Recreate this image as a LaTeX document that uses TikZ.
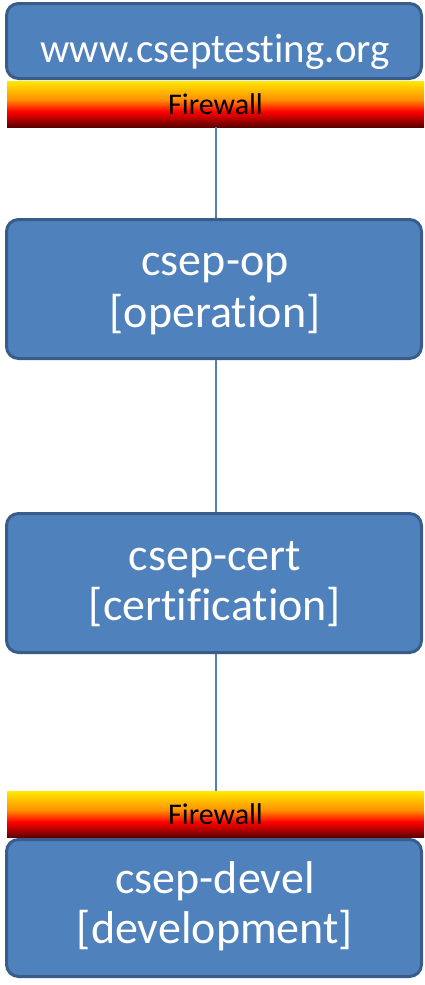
\documentclass[tikz,border=0pt]{standalone}
\usepackage{fontspec}
\setmainfont{Carlito}[Ligatures=NoCommon]
\usetikzlibrary{positioning}
\definecolor{hostfill}{HTML}{4F81BD}
\definecolor{hostedge}{HTML}{385D8A}
\definecolor{fwyellow}{HTML}{FFE800}
\definecolor{fworange}{HTML}{FF9000}
\definecolor{fwred}{HTML}{FF0000}
\definecolor{fwdark}{HTML}{5A0000}
% the node box covers 25bp..75bp of the shading
\pgfdeclareverticalshading{fireshade}{100bp}{
    color(0bp)=(fwdark); color(25bp)=(fwdark); color(34bp)=(fwdark!45!fwred);
    color(42bp)=(fwred); color(55bp)=(fworange); color(75bp)=(fwyellow);
    color(100bp)=(fwyellow)}
\tikzset{
    hostbox/.style={rectangle, rounded corners=12pt, fill=hostfill, draw=hostedge, line width=3pt,
        minimum width=415pt, inner sep=0pt},
    hosttext/.style={anchor=base, inner sep=0pt, text=white, font=\fontsize{46}{51}\selectfont},
    firewall/.style={rectangle, shading=fireshade, minimum width=417pt, minimum height=46pt,
        inner sep=0pt, font=\fontsize{30}{34}\selectfont},
    hostlink/.style={draw=hostfill, line width=2pt}
}

\begin{document}
\begin{tikzpicture}[x=1pt, y=-1pt]
    \useasboundingbox (0,0) rectangle (424,985);

    % Hosts
    \node[hostbox, minimum height=75pt] (web) at (214,41) {};
    \node[hostbox, minimum height=139pt] (op) at (214,289) {};
    \node[hostbox, minimum height=139pt] (cert) at (214,583) {};
    \node[hostbox, minimum height=137pt] (devel) at (214,908) {};

    \node[hosttext, font=\fontsize{41}{46}\selectfont] (web-name) at (215,62) {www.cseptesting.org};
    \node[hosttext] (op-name) at (215,275) {csep-op};
    \node[hosttext] (op-role) at (215,327) {[operation]};
    \node[hosttext] (cert-name) at (215,570) {csep-cert};
    \node[hosttext] (cert-role) at (215,620) {[certification]};
    \node[hosttext] (devel-name) at (215,893) {csep-devel};
    \node[hosttext] (devel-role) at (215,943) {[development]};

    % Firewalls
    \node[firewall] (fwa) at (215.5,104) {Firewall};
    \node[firewall] (fwb) at (215.5,814.5) {Firewall};

    % Links between hosts
    \draw[hostlink] (fwa.south -| 216,0) -- (op.north -| 216,0);
    \draw[hostlink] (op.south -| 216,0) -- (cert.north -| 216,0);
    \draw[hostlink] (cert.south -| 216,0) -- (fwb.north -| 216,0);
\end{tikzpicture}
\end{document}
